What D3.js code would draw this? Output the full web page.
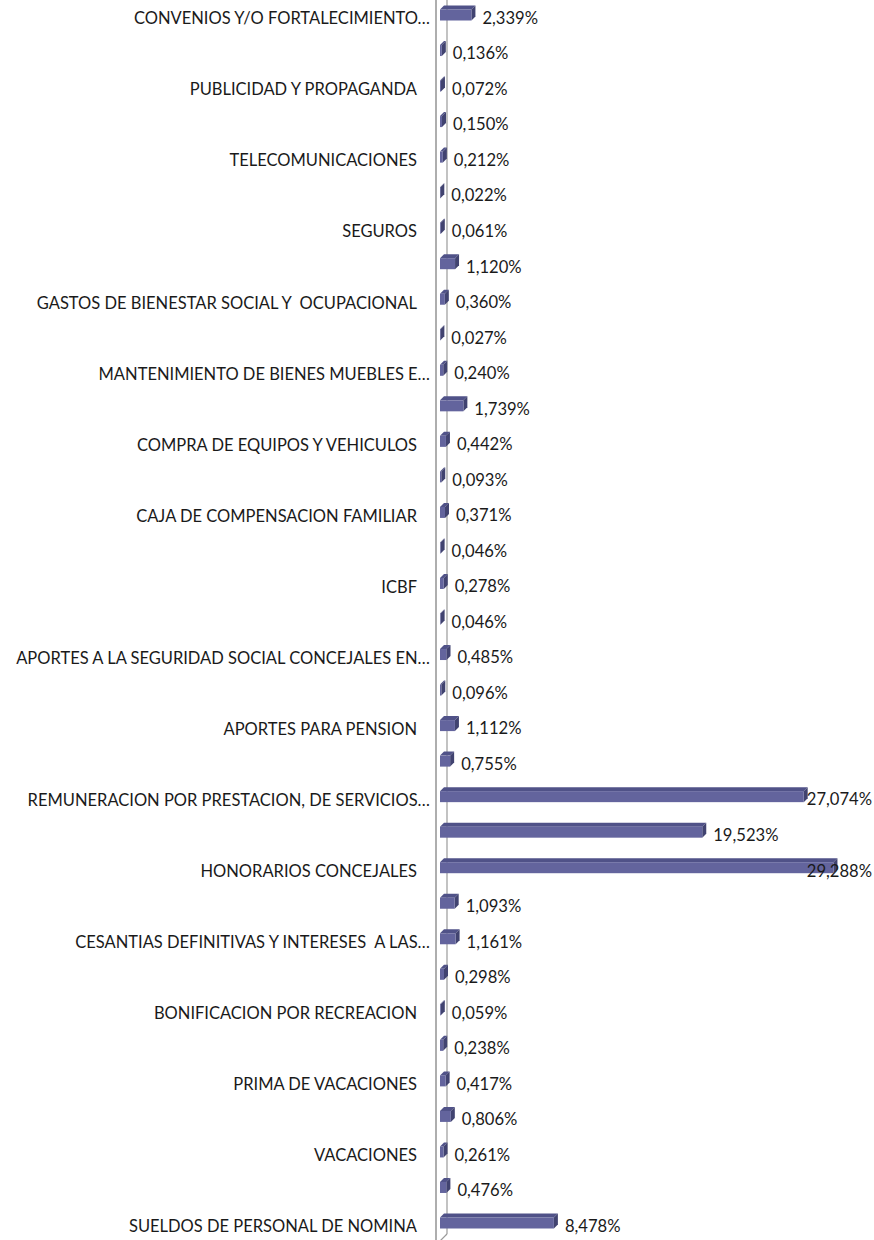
<!DOCTYPE html>
<html>
<head>
<meta charset="utf-8">
<script src="https://cdn.jsdelivr.net/npm/d3@7/dist/d3.min.js"></script>
<style>
  html, body { margin: 0; padding: 0; background: #fff; }
  svg { display: block; }
  text { font-family: Lato, "Open Sans", sans-serif; fill: #1a1a1a; white-space: pre; }
</style>
</head>
<body>
<svg id="chart" width="874" height="1240"></svg>
<script>
// Budget execution share per expense item, listed from the bottom bar upwards (%).
const values = [
  8.478, 0.476, 0.261, 0.806, 0.417, 0.238, 0.059, 0.298, 1.161, 1.093,
  29.288, 19.523, 27.074, 0.755, 1.112, 0.096, 0.485, 0.046, 0.278, 0.046,
  0.371, 0.093, 0.442, 1.739, 0.240, 0.027, 0.360, 1.120, 0.061, 0.022,
  0.212, 0.150, 0.072, 0.136, 2.339
];

// Axis labels: only every second category name is shown on the axis.
const tickLabels = [
  "SUELDOS DE PERSONAL DE NOMINA", "",
  "VACACIONES", "",
  "PRIMA DE VACACIONES", "",
  "BONIFICACION POR RECREACION", "",
  "CESANTIAS DEFINITIVAS Y INTERESES  A LAS…", "",
  "HONORARIOS CONCEJALES", "",
  "REMUNERACION POR PRESTACION, DE SERVICIOS…", "",
  "APORTES PARA PENSION", "",
  "APORTES A LA SEGURIDAD SOCIAL CONCEJALES EN…", "",
  "ICBF", "",
  "CAJA DE COMPENSACION FAMILIAR", "",
  "COMPRA DE EQUIPOS Y VEHICULOS", "",
  "MANTENIMIENTO DE BIENES MUEBLES E…", "",
  "GASTOS DE BIENESTAR SOCIAL Y  OCUPACIONAL", "",
  "SEGUROS", "",
  "TELECOMUNICACIONES", "",
  "PUBLICIDAD Y PROPAGANDA", "",
  "CONVENIOS Y/O FORTALECIMIENTO…"
];

const W = 874, H = 1240;
const svg = d3.select("#chart");

const idx = d3.range(values.length);
const x = d3.scaleLinear().domain([0, 30]).range([440, 843]);
const y = d3.scalePoint().domain(idx).range([1223, 15]);

const barH = 11;          // front face height
const dx = 4, dy = -4;    // 3-D depth offset
const fmt = v => d3.format(".3f")(v).replace(".", ",") + "%";

// Walls of the 3-D plot area: back edge, floor corner, front edge
svg.append("line")
  .attr("x1", 447).attr("x2", 447).attr("y1", 0).attr("y2", 1234)
  .attr("stroke", "#9a9a9a").attr("stroke-width", 1.2);
svg.append("line")
  .attr("x1", 447).attr("x2", 440).attr("y1", 1234).attr("y2", 1241)
  .attr("stroke", "#9a9a9a").attr("stroke-width", 1.2);
svg.append("line")
  .attr("x1", 436).attr("x2", 436).attr("y1", 0).attr("y2", H)
  .attr("stroke", "#8c8c8c").attr("stroke-width", 1.4);

// Bars with top and side faces
const bars = svg.append("g").selectAll("g").data(idx).join("g");

bars.each(function(i) {
  const g = d3.select(this);
  const x0 = x(0), x1 = x(values[i]);
  const yt = y(i) - barH / 2, yb = y(i) + barH / 2;
  // top face
  g.append("path")
    .attr("d", `M${x0},${yt} L${x0 + dx},${yt + dy} L${x1 + dx},${yt + dy} L${x1},${yt} Z`)
    .attr("fill", "#505288");
  // side face
  g.append("path")
    .attr("d", `M${x1},${yt} L${x1 + dx},${yt + dy} L${x1 + dx},${yb + dy} L${x1},${yb} Z`)
    .attr("fill", "#414370");
  // front face
  g.append("rect")
    .attr("x", x0).attr("y", yt)
    .attr("width", Math.max(0.6, x1 - x0)).attr("height", barH)
    .attr("fill", "#63649d");
});

// Value labels, kept inside the right edge
svg.append("g").selectAll("text").data(idx).join("text")
  .attr("y", i => y(i) + 3)
  .attr("dy", "0.35em")
  .attr("font-size", 16.6)
  .text(i => fmt(values[i]))
  .each(function(i) {
    const w = this.getComputedTextLength();
    const px = Math.min(x(values[i]) + dx + 7, W - 2 - w);
    d3.select(this).attr("x", px);
  });

// Category axis labels
const axis = d3.axisLeft(y)
  .tickSize(0)
  .tickPadding(0)
  .tickFormat(i => tickLabels[i]);

const ag = svg.append("g").attr("transform", "translate(417,3.5)").call(axis);
ag.select(".domain").remove();
ag.selectAll("text")
  .attr("font-size", 16.5)
  .attr("font-family", "Lato, 'Open Sans', sans-serif")
  .attr("fill", "#1a1a1a")
  // truncated names run closer to the axis
  .attr("x", i => tickLabels[i].endsWith("…") ? 13 : 0);
</script>
</body>
</html>
